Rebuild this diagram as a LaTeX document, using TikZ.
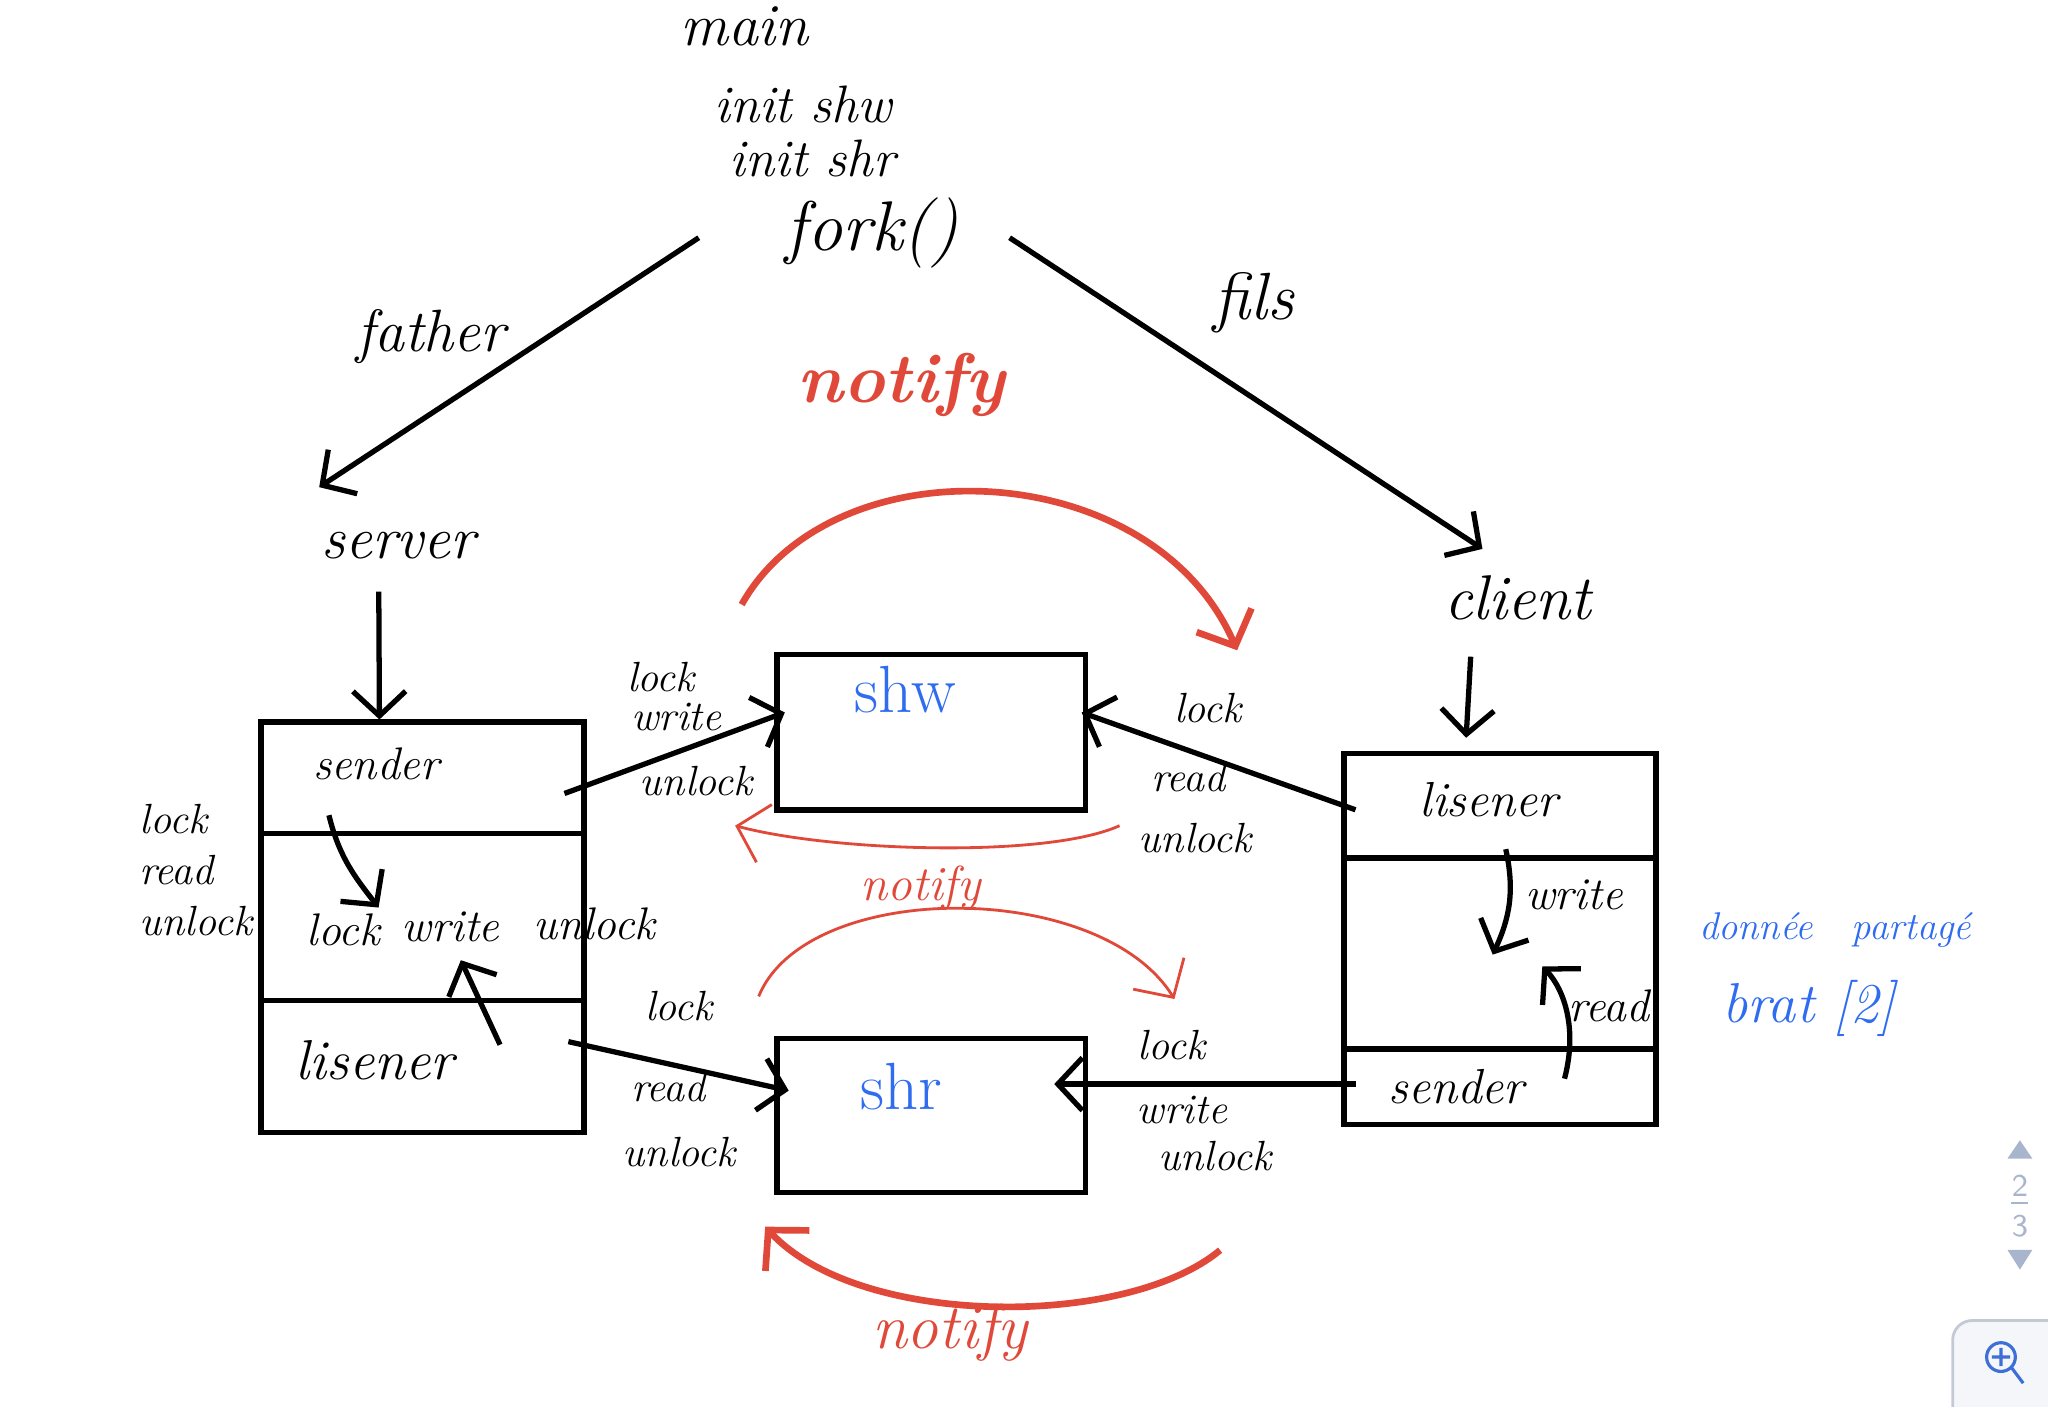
\documentclass[tikz,border=0pt]{standalone}
\usetikzlibrary{arrows.meta, calc, fit}
\definecolor{notered}{HTML}{E0493A}
\definecolor{inkblue}{HTML}{2F6CF0}
\definecolor{uigray}{HTML}{A9B5CD}
\definecolor{uiline}{HTML}{C3CAD6}
\definecolor{uifill}{HTML}{F4F6FA}
\definecolor{uiblue}{HTML}{3D6FD6}
\begin{document}
\begin{tikzpicture}[
x=0.01306 cm, y=-0.01306 cm,
line width=1.5 pt,
arr/.style={-{Straight Barb[length=7pt, width=15pt]}},
redarr/.style={draw=notered, -{Straight Barb[length=8pt, width=17pt]}},
partbox/.style={
draw,
rectangle,
inner sep=0 pt,
line width=1.6 pt,
},
word/.style={font=\itshape\fontsize{12}{14}\selectfont, inner sep=1 pt},
bigword/.style={font=\itshape\fontsize{17}{20}\selectfont, inner sep=1 pt},
]
\useasboundingbox (0,0) rectangle (1568,1077);

% main
\node [bigword] at (570,20) (main) {main};
\node [bigword, font=\itshape\fontsize{15}{18}\selectfont] at (615,80) (initw) {init shw};
\node [bigword, font=\itshape\fontsize{15}{18}\selectfont] at (622,121) (initr) {init shr};
\node [bigword, font=\itshape\fontsize{20}{24}\selectfont] at (668,178) (fork) {fork()};

% processes
\node [bigword] at (305,418) (server) {server};
\node [bigword, font=\itshape\fontsize{18}{22}\selectfont] at (1162,458) (client) {client};

\path[every node/.style={bigword}]
(330,258) node (father) {father}
(960,232) node [font=\itshape\fontsize{19}{22}\selectfont] (fils) {fils}
;

\draw [arr] ($(fork.west)+(-62,4)$) -- ($(server.north west)+(3,-30)$);
\draw [arr] ($(fork.east)+(34,4)$) -- ($(client.north)+(-27,-16)$);

% server parts
\node [partbox, fit={(200,553) (447,638)}] (srow1) {};
\node [partbox, fit={(200,638) (447,766)}] (srow2) {};
\node [partbox, fit={(200,766) (447,867)}] (srow3) {};

% client parts
\node [partbox, fit={(1029,577) (1268,657)}] (crow1) {};
\node [partbox, fit={(1029,657) (1268,803)}] (crow2) {};
\node [partbox, fit={(1029,803) (1268,861)}] (crow3) {};

% shared memory
\node [partbox, fit={(595,501) (831,620)}] (shw) {};
\node [partbox, fit={(595,795) (831,913)}] (shr) {};

\path[every node/.style={bigword, text=inkblue, font=\fontsize{19}{22}\selectfont}]
(693,528) node (shwtxt) {shw}
(690,832) node (shrtxt) {shr}
;

% texts in the parts
\path[every node/.style={word, font=\itshape\fontsize{13}{15}\selectfont}]
(288,585) node (ssend) {sender}
(263,712) node (slock) {lock}
(345,710) node (swrite) {write}
(455,707) node (sunlock) {unlock}
(287,812) node [font=\itshape\fontsize{16}{19}\selectfont] (slis) {lisener}
(1140,612) node [font=\itshape\fontsize{14}{17}\selectfont] (clis) {lisener}
(1205,685) node (cwrite) {write}
(1232,770) node (cread) {read}
(1115,832) node [font=\itshape\fontsize{14}{17}\selectfont] (csend) {sender}
(150,666) node [align=left, font=\itshape\fontsize{12}{14.5}\selectfont] (sside) {lock\\read\\unlock}
;

\draw [arr] ($(server.south)+(-15,20)$) -- ($(srow1.north)+(-33,0)$);
\draw [arr] ($(client.south)+(-36,23)$) -- ($(crow1.north)+(-26,-10)$);

% inner steps
\draw [arr] ($(srow1.south west)+(54,-16)$) .. controls +(8,33) and +(-17,-22) .. ($(srow2.north west)+(92,59)$);
\draw [arr] ($(srow3.north west)+(185,36)$) -- ($(srow2.south west)+(155,-33)$);
\draw [arr] ($(crow1.south west)+(126,-9)$) .. controls +(7,32) and +(13,-28) .. ($(crow2.north west)+(116,76)$);
\draw [arr] ($(crow3.north west)+(171,25)$) .. controls +(10,-38) and +(17,18) .. ($(crow2.north west)+(154,85)$);

% access to shared memory
\draw [arr] ($(srow1.east)+(-17,12)$) -- ($(shw.west)+(8,-15)$);
\draw [arr] ($(crow1.west)+(11,3)$) -- ($(shw.east)+(-5,-15)$);
\draw [arr] ($(srow3.east)+(-14,-19)$) -- ($(shr.west)+(11,-19)$);
\draw [arr] ($(crow3.west)+(11,-2)$) -- ($(shr.east)+(-26,-24)$);

\path[every node/.style={word}]
(506,518) node {lock}
(518,549) node {write}
(533,598) node {unlock}
(925,542) node {lock}
(910,595) node {read}
(915,642) node {unlock}
(520,770) node {lock}
(512,832) node {read}
(520,882) node {unlock}
(897,800) node {lock}
(905,850) node {write}
(930,885) node {unlock}
;

% notify
\draw [redarr, line width=1.9 pt] ($(shw.north west)+(-25,-36)$) .. controls +(70,-125) and +(-65,-150) .. ($(shw.north east)+(114,-1)$);
\draw [redarr, line width=0.8 pt] ($(shw.south east)+(24,10)$) .. controls +(-55,25) and +(75,20) .. ($(shw.south west)+(-30,10)$);
\draw [redarr, line width=0.8 pt] ($(shr.north west)+(-12,-30)$) .. controls +(37,-90) and +(-57,-92) .. ($(shr.north east)+(66,-28)$);
\draw [redarr, line width=1.9 pt] ($(shr.south east)+(101,42)$) .. controls +(-72,60) and +(72,78) .. ($(shr.south west)+(-7,24)$);

\path[every node/.style={text=notered}]
(690,295) node [font=\itshape\bfseries\fontsize{20}{24}\selectfont] (note1) {notify}
(705,680) node [font=\itshape\fontsize{14}{17}\selectfont] (note2) {notify}
(727,1020) node [font=\itshape\fontsize{18}{22}\selectfont] (note3) {notify}
;

% shared data
\path[every node/.style={text=inkblue}]
(1405,712) node [font=\itshape\fontsize{11}{13}\selectfont] (donnee) {donnée\quad partagé}
(1385,772) node [font=\itshape\fontsize{16}{19}\selectfont] (brat) {brat [2]}
;

% page controls
\fill [uigray] (1537,887) -- (1556,887) -- (1546.5,873) -- cycle;
\fill [uigray] (1537,957) -- (1556,957) -- (1546.5,972) -- cycle;
\draw [uigray, line width=0.8 pt] (1540,921) -- (1553,921);
\path[every node/.style={text=uigray, font=\sffamily\fontsize{9}{10}\selectfont, inner sep=0 pt}]
(1546.5,908) node (pgnum) {2}
(1546.5,939) node (pgall) {3}
;
\filldraw [fill=uifill, draw=uiline, line width=0.8 pt] (1495,1080) -- (1495,1026) arc[start angle=180, end angle=270, radius=15] -- (1572,1011) -- (1572,1080) -- cycle;
\draw [uiblue, line width=0.9 pt] (1532,1039) circle [radius=11];
\draw [uiblue, line width=0.9 pt] (1532,1032) -- (1532,1046) (1525,1039) -- (1539,1039) (1540,1047) -- (1549,1059);

\end{tikzpicture}
\end{document}
